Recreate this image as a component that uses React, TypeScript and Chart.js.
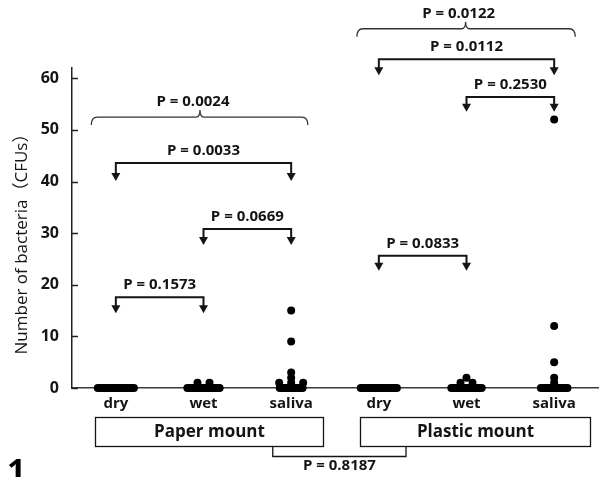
import { useEffect, useRef } from 'react';
import { Chart, registerables } from 'chart.js';

Chart.register(...registerables);

// ---------- data ----------
const categories = ['dry', 'wet', 'saliva', 'dry', 'wet', 'saliva'];
const mountGroups = ['Paper mount', 'Plastic mount'];
const yTicks = [0, 10, 20, 30, 40, 50, 60];

const paperDry = [0, 0, 0, 0, 0, 0, 0, 0, 0, 0, 0, 0, 0, 0, 0, 0, 0, 0, 0, 0];
const paperWet = [1, 1, 0, 0, 0, 0, 0, 0, 0, 0, 0, 0, 0, 0, 0, 0, 0, 0, 0, 0];
const paperSaliva = [15, 9, 3, 2, 1, 1, 1, 0, 0, 0, 0, 0, 0, 0, 0, 0, 0, 0, 0, 0];
const plasticDry = [0, 0, 0, 0, 0, 0, 0, 0, 0, 0, 0, 0, 0, 0, 0, 0, 0, 0, 0, 0];
const plasticWet = [2, 1, 1, 0, 0, 0, 0, 0, 0, 0, 0, 0, 0, 0, 0, 0, 0, 0, 0, 0];
const plasticSaliva = [52, 12, 5, 2, 1, 0, 0, 0, 0, 0, 0, 0, 0, 0, 0, 0, 0, 0, 0, 0];
const groupValues = [paperDry, paperWet, paperSaliva, plasticDry, plasticWet, plasticSaliva];

// pairwise comparisons (category indices) and P values
const arrowPairs = [
  { from: 0, to: 2, p: 'P = 0.0033' },
  { from: 1, to: 2, p: 'P = 0.0669' },
  { from: 0, to: 1, p: 'P = 0.1573' },
  { from: 3, to: 5, p: 'P = 0.0112' },
  { from: 4, to: 5, p: 'P = 0.2530' },
  { from: 3, to: 4, p: 'P = 0.0833' },
];
const groupBrackets = [
  { from: 0, to: 2, p: 'P = 0.0024' },
  { from: 3, to: 5, p: 'P = 0.0122' },
];
const mountPValue = 'P = 0.8187';

// ---------- layout (positions only) ----------
const W = 607;
const H = 477;
const PLOT_LEFT = 72;
const PLOT_RIGHT = 598;
const PLOT_TOP = 68;
const PLOT_BOTTOM = 388;
const PX_PER_CAT = (PLOT_RIGHT - PLOT_LEFT) / categories.length;
const ZERO_STEP = 1.9;
const STACK_STEP = 12;
// y-values (in data units) of bracket line and arrow tip
const arrowLayout = [
  { line: 43.6, tip: 40.1 },
  { line: 30.8, tip: 27.7 },
  { line: 17.6, tip: 14.5 },
  { line: 63.7, tip: 60.6 },
  { line: 56.4, tip: 53.5 },
  { line: 25.6, tip: 22.7 },
];
const bracketLayout = [
  { line: 52.5, left: -0.28, right: 0.19, notch: 0.96, text: 0.88 },
  { line: 69.6, left: -0.25, right: 0.24, notch: 0.99, text: 0.91 },
];
const boxLayout = [
  { left: -0.24, right: 0.36 },
  { left: -0.215, right: 0.41 },
];

const FONT = '"Open Sans", "Noto Sans", "Noto Sans CJK SC", sans-serif';
const INK = '#141414';

function swarm(values: number[], g: number) {
  const counts = new Map<number, number>();
  values.forEach((v) => counts.set(v, (counts.get(v) || 0) + 1));
  const seen = new Map<number, number>();
  return values.map((v) => {
    const n = counts.get(v) as number;
    const i = seen.get(v) || 0;
    seen.set(v, i + 1);
    const step = v === 0 ? ZERO_STEP : STACK_STEP;
    const offPx = (i - (n - 1) / 2) * step;
    return { x: g + offPx / PX_PER_CAT, y: v };
  });
}

const annotationPlugin = {
  id: 'annotations',
  afterDraw(chart: any) {
    const ctx: CanvasRenderingContext2D = chart.ctx;
    const xs = chart.scales.x;
    const ys = chart.scales.y;
    const ca = chart.chartArea;
    ctx.save();

    // inner y tick marks
    ctx.strokeStyle = '#222';
    ctx.lineWidth = 1.5;
    yTicks.forEach((t) => {
      const y = Math.round(ys.getPixelForValue(t)) + 0.5;
      ctx.beginPath();
      ctx.moveTo(ca.left, y);
      ctx.lineTo(ca.left + 6, y);
      ctx.stroke();
    });

    // y title
    ctx.save();
    ctx.translate(22, 240);
    ctx.rotate(-Math.PI / 2);
    ctx.fillStyle = INK;
    ctx.font = `17px ${FONT}`;
    ctx.textAlign = 'center';
    ctx.textBaseline = 'middle';
    ctx.fillText('Number of bacteria（CFUs）', 0, 0);
    ctx.restore();

    // arrow brackets
    arrowPairs.forEach((a, k) => {
      const l = arrowLayout[k];
      const x1 = xs.getPixelForValue(a.from);
      const x2 = xs.getPixelForValue(a.to);
      const yl = ys.getPixelForValue(l.line);
      const yt = ys.getPixelForValue(l.tip);
      ctx.strokeStyle = INK;
      ctx.fillStyle = INK;
      ctx.lineWidth = 2;
      ctx.beginPath();
      ctx.moveTo(x1, yt - 6);
      ctx.lineTo(x1, yl);
      ctx.lineTo(x2, yl);
      ctx.lineTo(x2, yt - 6);
      ctx.stroke();
      [x1, x2].forEach((x) => {
        ctx.beginPath();
        ctx.moveTo(x - 4.5, yt - 8);
        ctx.lineTo(x + 4.5, yt - 8);
        ctx.lineTo(x, yt);
        ctx.closePath();
        ctx.fill();
      });
      ctx.font = `bold 15px ${FONT}`;
      ctx.textAlign = 'center';
      ctx.textBaseline = 'middle';
      ctx.fillText(a.p, (x1 + x2) / 2, yl - 12);
    });

    // curly group brackets
    groupBrackets.forEach((b, k) => {
      const l = bracketLayout[k];
      const xL = xs.getPixelForValue(b.from + l.left);
      const xR = xs.getPixelForValue(b.to + l.right);
      const xN = xs.getPixelForValue(b.from + l.notch);
      const xT = xs.getPixelForValue(b.from + l.text);
      const y = ys.getPixelForValue(l.line);
      ctx.strokeStyle = '#333';
      ctx.lineWidth = 1.3;
      ctx.beginPath();
      ctx.moveTo(xL, y + 8);
      ctx.quadraticCurveTo(xL, y, xL + 6, y);
      ctx.lineTo(xN - 4, y);
      ctx.quadraticCurveTo(xN, y, xN, y - 7);
      ctx.quadraticCurveTo(xN, y, xN + 4, y);
      ctx.lineTo(xR - 6, y);
      ctx.quadraticCurveTo(xR, y, xR, y + 8);
      ctx.stroke();
      ctx.fillStyle = INK;
      ctx.font = `bold 15px ${FONT}`;
      ctx.textAlign = 'center';
      ctx.textBaseline = 'middle';
      ctx.fillText(b.p, xT, y - 15);
    });

    // mount boxes
    const boxTop = ca.bottom + 29.5;
    const boxBottom = ca.bottom + 58.5;
    mountGroups.forEach((name, k) => {
      const first = k * 3;
      const last = k * 3 + 2;
      const xL = Math.round(xs.getPixelForValue(first + boxLayout[k].left)) + 0.5;
      const xR = Math.round(xs.getPixelForValue(last + boxLayout[k].right)) + 0.5;
      ctx.strokeStyle = INK;
      ctx.lineWidth = 1.3;
      ctx.strokeRect(xL, boxTop, xR - xL, boxBottom - boxTop);
      ctx.fillStyle = INK;
      ctx.font = `bold 17px ${FONT}`;
      ctx.textAlign = 'center';
      ctx.textBaseline = 'middle';
      ctx.fillText(name, (xL + xR) / 2, (boxTop + boxBottom) / 2);
    });
    // connector
    const cL = xs.getPixelForValue(2 - 0.21);
    const cR = xs.getPixelForValue(3 + 0.31);
    const cY = ca.bottom + 68.5;
    ctx.beginPath();
    ctx.moveTo(cL, boxBottom);
    ctx.lineTo(cL, cY);
    ctx.lineTo(cR, cY);
    ctx.lineTo(cR, boxBottom);
    ctx.stroke();
    ctx.font = `bold 15px ${FONT}`;
    ctx.fillText(mountPValue, (cL + cR) / 2, ca.bottom + 78);

    // panel label
    ctx.font = `bold 33px ${FONT}`;
    ctx.textAlign = 'left';
    ctx.textBaseline = 'alphabetic';
    ctx.fillStyle = '#000';
    ctx.fillText('1', 7, 482);

    ctx.restore();
  },
};

export default function App() {
  const ref = useRef<HTMLCanvasElement | null>(null);
  useEffect(() => {
    if (!ref.current) return;
    const chart = new Chart(ref.current, {
      type: 'scatter',
      data: {
        datasets: groupValues.map((vals, g) => ({
          label: categories[g],
          data: swarm(vals, g),
          backgroundColor: '#000',
          borderColor: '#000',
          pointRadius: 4,
          pointBorderWidth: 0,
          clip: false as any,
        })),
      },
      options: {
        animation: false,
        responsive: false,
        devicePixelRatio: 1,
        layout: { padding: { top: PLOT_TOP, right: W - PLOT_RIGHT, left: 0, bottom: 0 } },
        plugins: { legend: { display: false }, tooltip: { enabled: false } },
        scales: {
          x: {
            type: 'linear',
            min: -0.5,
            max: categories.length - 0.5,
            afterBuildTicks: (scale: any) => {
              scale.ticks = categories.map((_, i) => ({ value: i }));
            },
            afterFit: (scale: any) => {
              scale.height = H - PLOT_BOTTOM;
            },
            ticks: {
              autoSkip: false,
              maxRotation: 0,
              padding: 7,
              color: INK,
              font: { family: FONT, size: 15, weight: 'bold' },
              callback: (v: any) => categories[v as number] ?? '',
            },
            grid: { display: false, drawTicks: false },
            border: { display: true, color: '#3a3a3a', width: 1.5 },
          },
          y: {
            type: 'linear',
            min: 0,
            max: 62,
            afterBuildTicks: (scale: any) => {
              scale.ticks = yTicks.map((v) => ({ value: v }));
            },
            afterFit: (scale: any) => {
              scale.width = PLOT_LEFT;
            },
            ticks: {
              padding: 13,
              color: INK,
              font: { family: FONT, size: 16, weight: 'bold' },
            },
            grid: { display: false, drawTicks: false },
            border: { display: true, color: '#222', width: 1.5 },
          },
        },
      },
      plugins: [annotationPlugin],
    });
    return () => chart.destroy();
  }, []);
  return (
    <div style={{ position: 'fixed', left: 0, top: 0, width: W, height: H, background: '#fff' }}>
      <canvas ref={ref} width={W} height={H} style={{ width: W, height: H, display: 'block' }} />
    </div>
  );
}
